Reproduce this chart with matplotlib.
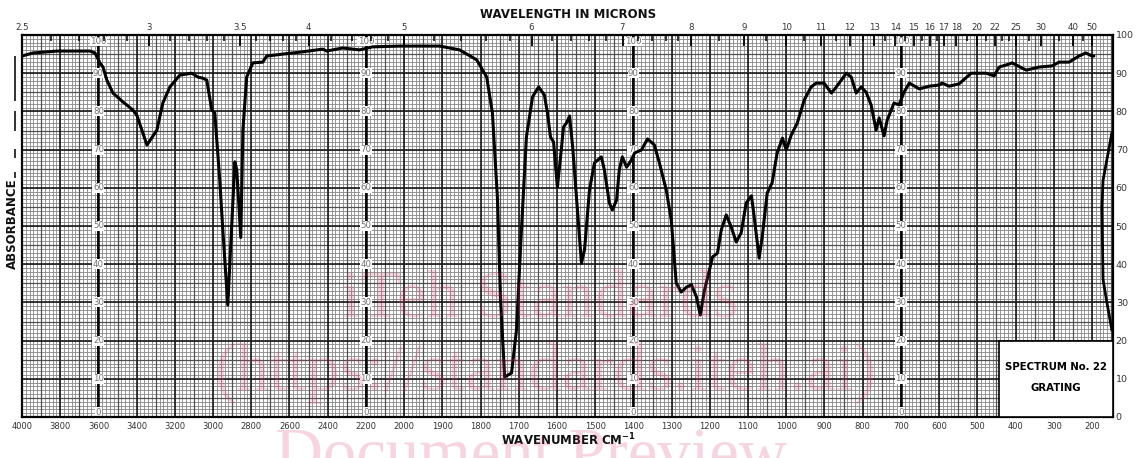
import numpy as np
import matplotlib.pyplot as plt
from matplotlib.patches import Rectangle
from matplotlib.lines import Line2D

wavenumber = [4000, 3942, 3817, 3644, 3618, 3592, 3576, 3556, 3524, 3472,
              3420, 3399, 3346, 3294, 3263, 3226, 3174, 3111, 3080, 3054,
              3033, 3007, 2991, 2965, 2949, 2923, 2912, 2886, 2876, 2855,
              2844, 2824, 2792, 2740, 2719, 2635, 2546, 2426, 2405, 2322,
              2233, 2165, 2024, 1907, 1855, 1810, 1784, 1769, 1756, 1748,
              1737, 1719, 1706, 1693, 1680, 1664, 1648, 1633, 1625, 1617,
              1609, 1599, 1588, 1583, 1575, 1567, 1559, 1546, 1536, 1528,
              1515, 1502, 1484, 1476, 1463, 1455, 1444, 1437, 1429, 1418,
              1405, 1397, 1379, 1363, 1345, 1332, 1314, 1301, 1288, 1275,
              1261, 1248, 1235, 1225, 1214, 1201, 1193, 1180, 1170, 1157,
              1144, 1131, 1118, 1105, 1091, 1084, 1071, 1063, 1050, 1037,
              1024, 1010, 1000, 987, 971, 953, 935, 922, 901, 882,
              869, 843, 830, 817, 804, 791, 778, 765, 757, 744,
              736, 718, 705, 692, 678, 652, 626, 600, 592, 574,
              548, 516, 477, 456, 443, 417, 409, 372, 339, 305,
              286, 260, 234, 216, 200, 195]
absorbance = [94.5, 95.3, 95.8, 95.8, 95.3, 92.7, 91.6, 88.2, 84.8, 82.5,
              80.4, 79.0, 71.2, 75.1, 82.2, 86.4, 89.5, 90.0, 89.0, 88.7,
              88.2, 80.4, 79.6, 62.0, 49.0, 29.3, 40.3, 66.8, 64.7, 47.0,
              75.0, 89.0, 92.7, 92.9, 94.5, 95.0, 95.5, 96.3, 95.8, 96.6,
              96.1, 96.9, 97.1, 97.1, 96.1, 93.5, 89.0, 79.6, 57.6, 31.4,
              10.5, 11.5, 22.8, 49.0, 73.3, 83.8, 86.4, 84.3, 79.6, 73.3,
              72.0, 60.2, 70.7, 75.9, 77.0, 78.8, 70.7, 53.4, 40.3, 43.7,
              59.4, 66.5, 68.1, 64.7, 56.0, 54.2, 56.8, 64.7, 68.1, 65.4,
              67.3, 69.1, 69.9, 72.8, 71.2, 66.5, 59.4, 51.6, 35.1, 32.7,
              34.0, 34.6, 31.4, 26.7, 33.2, 38.5, 41.9, 42.9, 49.0, 52.9,
              49.7, 45.8, 48.2, 56.0, 57.9, 52.4, 41.6, 47.1, 58.6, 61.3,
              69.1, 73.0, 69.9, 73.8, 77.0, 83.0, 86.4, 87.4, 87.4, 84.8,
              86.4, 90.0, 89.0, 84.8, 86.4, 85.0, 81.7, 75.1, 78.3, 73.6,
              77.7, 82.2, 81.7, 85.0, 87.4, 85.9, 86.6, 86.9, 87.4, 86.6,
              87.2, 90.0, 90.0, 89.3, 91.6, 92.4, 92.7, 90.8, 91.6, 91.9,
              92.9, 92.9, 94.5, 95.3, 94.5, 94.5]

# petit tracé au bord droit
edge_wn = [148, 171, 174, 171, 161, 148]
edge_abs = [74.3, 62.0, 55.0, 36.0, 30.0, 22.8]

bottom_ticks = [4000, 3800, 3600, 3400, 3200, 3000, 2800, 2600, 2400, 2200,
                2000, 1900, 1800, 1700, 1600, 1500, 1400, 1300, 1200, 1100,
                1000, 900, 800, 700, 600, 500, 400, 300, 200]
microns = [2.5, 3, 3.5, 4, 5, 6, 7, 8, 9, 10, 11, 12, 13, 14, 15, 16, 17, 18,
           20, 22, 25, 30, 40, 50]
microns_minor = [2.6, 2.7, 2.8, 2.9, 3.1, 3.2, 3.3, 3.4, 3.6, 3.7, 3.8, 3.9,
                 4.2, 4.4, 4.6, 4.8, 5.2, 5.4, 5.6, 5.8, 6.2, 6.4, 6.6, 6.8,
                 7.2, 7.4, 7.6, 7.8, 8.5, 9.5, 10.5, 11.5, 12.5, 13.5, 14.5,
                 15.5, 16.5, 19, 21, 23, 24, 27.5, 35, 45]
ordinate_lines = [3600, 2200, 1400, 700]
ordinate_values = [0, 10, 20, 30, 40, 50, 60, 70, 80, 90, 100]

### échelle : pas double au-dessus de 2000 cm-1

def fwd(w):
    w = np.asarray(w, dtype=float)
    return np.where(w >= 2000, w / 2 + 1000, w)

def inv(u):
    u = np.asarray(u, dtype=float)
    return np.where(u >= 2000, (u - 1000) * 2, u)

W, H = 1138, 458
fig = plt.figure(figsize=(W / 100, H / 100), dpi=100)
ax = fig.add_axes([22 / W, 41 / H, 1091 / W, 382 / H])
ax.set_xscale('function', functions=(fwd, inv))
ax.set_xlim(4000, 145)
ax.set_ylim(0, 100)

### quadrillage

fine_x = list(range(2000, 4001, 20)) + list(range(150, 2000, 10))
mid_x = list(range(2100, 4000, 200)) + list(range(150, 2000, 100))
major_x = list(range(2000, 4001, 200)) + list(range(200, 2000, 100))
ax.vlines(fine_x, 0, 100, color='#8e8e8e', lw=0.65, zorder=1)
ax.hlines(np.arange(0, 101, 1), 4000, 145, color='#8e8e8e', lw=0.65, zorder=1)
ax.vlines(mid_x, 0, 100, color='#505050', lw=0.9, zorder=2)
ax.hlines(np.arange(5, 100, 10), 4000, 145, color='#505050', lw=0.9, zorder=2)
ax.vlines(major_x, 0, 100, color='#1a1a1a', lw=1.2, zorder=2)
ax.hlines(np.arange(10, 100, 10), 4000, 145, color='#1a1a1a', lw=1.2, zorder=2)
ax.vlines(ordinate_lines, 0, 100, color='black', lw=1.8, zorder=3)

for xl in ordinate_lines:
    for v in ordinate_values:
        yv = min(max(v, 1.2), 98.3)
        ax.text(xl, yv, str(v), ha='center', va='center', fontsize=6.2,
                color='#707070', zorder=4,
                bbox=dict(fc='white', ec='none', pad=0.3))

### spectre

ax.plot(wavenumber, absorbance, color='black', lw=2.2,
        solid_joinstyle='round', solid_capstyle='round', zorder=6)
ax.plot(edge_wn, edge_abs, color='black', lw=2.0, zorder=6)

### axes

for s in ax.spines.values():
    s.set_linewidth(1.6)
    s.set_zorder(7)

ax.set_xticks(bottom_ticks)
ax.set_xticklabels([str(t) for t in bottom_ticks])
ax.xaxis.set_minor_locator(plt.NullLocator())
ax.tick_params(axis='x', length=0, pad=3.5, labelsize=6, labelcolor='#333333')
ax.yaxis.tick_right()
ax.set_yticks(ordinate_values)
ax.tick_params(axis='y', length=0, pad=2, labelsize=6.8, labelcolor='#333333')

ax2 = ax.twiny()
ax2.set_xscale('function', functions=(fwd, inv))
ax2.set_xlim(ax.get_xlim())
ax2.set_xticks([10000 / m for m in microns])
ax2.set_xticklabels([('%g' % m) for m in microns])
ax2.set_xticks([10000 / m for m in microns_minor], minor=True)
ax2.tick_params(axis='x', which='major', direction='in', length=8, width=1.3,
                pad=2, labelsize=6.2, labelcolor='#333333')
ax2.tick_params(axis='x', which='minor', direction='in', length=4.5, width=1.1)
for s in ax2.spines.values():
    s.set_visible(False)

### boîte

ax.add_patch(Rectangle(((999 - 22) / 1091, 0), 1 - (999 - 22) / 1091, 0.2,
                       transform=ax.transAxes, fc='white', ec='black',
                       lw=1.2, zorder=8))
ax.text(0.948, 0.132, 'SPECTRUM No. 22', transform=ax.transAxes, ha='center',
        va='center', fontsize=7.3, fontweight='bold', zorder=9)
ax.text(0.948, 0.076, 'GRATING', transform=ax.transAxes, ha='center',
        va='center', fontsize=7.3, fontweight='bold', zorder=9)

### textes

fig.text(568 / W, 1 - 15 / H, 'WAVELENGTH IN MICRONS', ha='center',
         va='center', fontsize=8.5, fontweight='bold', color='#111111')
fig.text(568 / W, 1 - 440 / H, r'WAVENUMBER CM$^{\mathbf{-1}}$', ha='center',
         va='center', fontsize=8.5, fontweight='bold', color='#111111')
fig.text(12 / W, 1 - 224 / H, 'ABSORBANCE', ha='center', va='center',
         rotation=90, fontsize=8.5, fontweight='bold', color='#111111')

for y0, y1 in [(57, 100), (112, 130), (150, 157), (173, 177)]:
    fig.add_artist(Line2D([15 / W, 15 / W], [1 - y0 / H, 1 - y1 / H],
                          transform=fig.transFigure, color='#333333', lw=1.4))

# filigrane
wm = dict(ha='center', va='baseline', fontsize=48, family='Liberation Serif',
          color='#d9406a', alpha=0.22, zorder=20)
fig.text(540 / W, 1 - 317 / H, 'iTeh Standards', **wm)
fig.text(545 / W, 1 - 390 / H, '(https://standards.iteh.ai)', **wm)
fig.text(531 / W, 1 - 474 / H, 'Document Preview', **wm)

fig.savefig('out.png', dpi=100)
